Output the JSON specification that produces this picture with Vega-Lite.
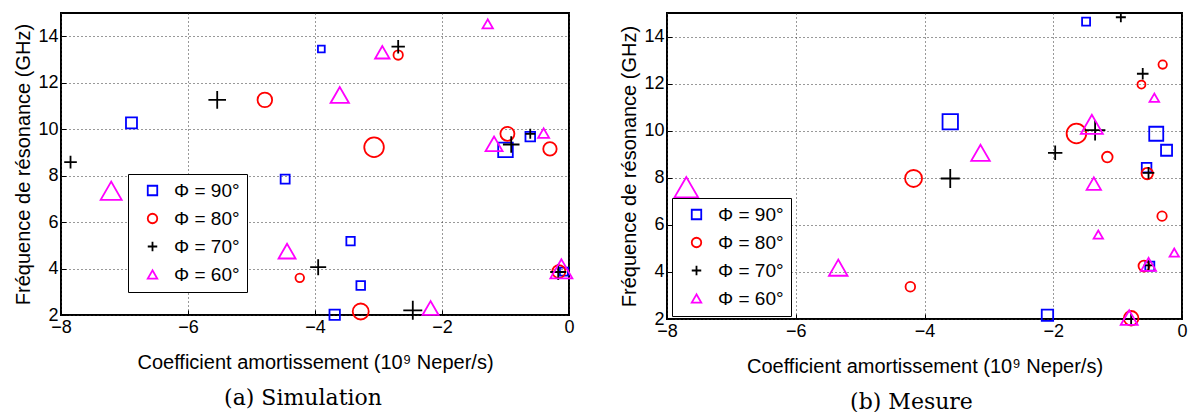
{
  "$schema": "https://vega.github.io/schema/vega-lite/v6.json",
  "padding": {"left": 12, "top": 7, "right": 4, "bottom": 2},
  "background": "white",
  "spacing": 41,
  "config": {
    "view": {"stroke": "black", "strokeWidth": 2},
    "font": "Liberation Sans",
    "axis": {
      "grid": true, "gridColor": "#333333", "gridDash": [1, 3], "gridWidth": 1, "gridOpacity": 1,
      "domain": false, "ticks": true, "tickSize": -5, "tickColor": "black", "tickWidth": 1,
      "labelPadding": 8, "labelFont": "Liberation Sans", "labelFontSize": 18, "labelColor": "black",
      "labelFlush": false, "labelOverlap": false,
      "titleFont": "Liberation Sans", "titleFontSize": 20, "titleFontWeight": "normal", "titleColor": "black"
    },
    "axisX": {"titlePadding": 16},
    "legend": {
      "fillColor": "white", "strokeColor": "black", "padding": 7,
      "labelFont": "Liberation Sans", "labelFontSize": 19, "labelColor": "black",
      "symbolSize": 90, "symbolStrokeWidth": 1.8, "rowPadding": 8,
      "labelOffset": 12, "symbolOffset": 8
    }
  },
  "datasets": {
    "points": [
      {"p": "Simulation", "phi": "Φ = 90°", "x": -6.89, "y": 10.27, "a": 5.5},
      {"p": "Simulation", "phi": "Φ = 90°", "x": -4.47, "y": 7.85, "a": 4.5},
      {"p": "Simulation", "phi": "Φ = 90°", "x": -3.90, "y": 13.45, "a": 3.4},
      {"p": "Simulation", "phi": "Φ = 90°", "x": -1.00, "y": 9.11, "a": 7.3},
      {"p": "Simulation", "phi": "Φ = 90°", "x": -0.61, "y": 9.68, "a": 4.8},
      {"p": "Simulation", "phi": "Φ = 90°", "x": -3.44, "y": 5.18, "a": 4.2},
      {"p": "Simulation", "phi": "Φ = 90°", "x": -3.28, "y": 3.27, "a": 4.3},
      {"p": "Simulation", "phi": "Φ = 90°", "x": -3.69, "y": 2.01, "a": 5.2},
      {"p": "Simulation", "phi": "Φ = 90°", "x": -0.08, "y": 3.87, "a": 4.0},
      {"p": "Simulation", "phi": "Φ = 80°", "x": -4.79, "y": 11.26, "a": 7.3},
      {"p": "Simulation", "phi": "Φ = 80°", "x": -2.69, "y": 13.19, "a": 4.7},
      {"p": "Simulation", "phi": "Φ = 80°", "x": -3.07, "y": 9.22, "a": 9.8},
      {"p": "Simulation", "phi": "Φ = 80°", "x": -0.97, "y": 9.80, "a": 7.0},
      {"p": "Simulation", "phi": "Φ = 80°", "x": -0.30, "y": 9.15, "a": 6.7},
      {"p": "Simulation", "phi": "Φ = 80°", "x": -4.24, "y": 3.60, "a": 4.3},
      {"p": "Simulation", "phi": "Φ = 80°", "x": -3.28, "y": 2.15, "a": 8.0},
      {"p": "Simulation", "phi": "Φ = 80°", "x": -0.16, "y": 3.87, "a": 6.5},
      {"p": "Simulation", "phi": "Φ = 70°", "x": -7.85, "y": 8.58, "a": 6.3},
      {"p": "Simulation", "phi": "Φ = 70°", "x": -5.54, "y": 11.26, "a": 8.8},
      {"p": "Simulation", "phi": "Φ = 70°", "x": -2.69, "y": 13.55, "a": 6.7},
      {"p": "Simulation", "phi": "Φ = 70°", "x": -0.91, "y": 9.34, "a": 8.3},
      {"p": "Simulation", "phi": "Φ = 70°", "x": -0.61, "y": 9.80, "a": 5.0},
      {"p": "Simulation", "phi": "Φ = 70°", "x": -3.95, "y": 4.06, "a": 8.0},
      {"p": "Simulation", "phi": "Φ = 70°", "x": -2.46, "y": 2.20, "a": 9.5},
      {"p": "Simulation", "phi": "Φ = 70°", "x": -0.17, "y": 3.85, "a": 8.0},
      {"p": "Simulation", "phi": "Φ = 60°", "x": -7.21, "y": 7.35, "a": 10.5},
      {"p": "Simulation", "phi": "Φ = 60°", "x": -1.28, "y": 14.53, "a": 5.2},
      {"p": "Simulation", "phi": "Φ = 60°", "x": -2.94, "y": 13.31, "a": 7.2},
      {"p": "Simulation", "phi": "Φ = 60°", "x": -3.61, "y": 11.47, "a": 9.2},
      {"p": "Simulation", "phi": "Φ = 60°", "x": -1.18, "y": 9.37, "a": 8.5},
      {"p": "Simulation", "phi": "Φ = 60°", "x": -0.40, "y": 9.83, "a": 5.5},
      {"p": "Simulation", "phi": "Φ = 60°", "x": -4.44, "y": 4.75, "a": 8.5},
      {"p": "Simulation", "phi": "Φ = 60°", "x": -2.18, "y": 2.30, "a": 8.0},
      {"p": "Simulation", "phi": "Φ = 60°", "x": -0.12, "y": 3.99, "a": 11.0},
      {"p": "Mesure", "phi": "Φ = 90°", "x": -1.49, "y": 14.63, "a": 4.0},
      {"p": "Mesure", "phi": "Φ = 90°", "x": -3.60, "y": 10.38, "a": 7.7},
      {"p": "Mesure", "phi": "Φ = 90°", "x": -0.40, "y": 9.87, "a": 7.0},
      {"p": "Mesure", "phi": "Φ = 90°", "x": -0.24, "y": 9.17, "a": 5.5},
      {"p": "Mesure", "phi": "Φ = 90°", "x": -0.55, "y": 8.43, "a": 4.8},
      {"p": "Mesure", "phi": "Φ = 90°", "x": -2.09, "y": 2.16, "a": 5.7},
      {"p": "Mesure", "phi": "Φ = 90°", "x": -0.50, "y": 4.25, "a": 4.5},
      {"p": "Mesure", "phi": "Φ = 80°", "x": -0.30, "y": 12.81, "a": 4.2},
      {"p": "Mesure", "phi": "Φ = 80°", "x": -0.63, "y": 11.96, "a": 4.0},
      {"p": "Mesure", "phi": "Φ = 80°", "x": -1.64, "y": 9.88, "a": 9.8},
      {"p": "Mesure", "phi": "Φ = 80°", "x": -1.16, "y": 8.88, "a": 5.3},
      {"p": "Mesure", "phi": "Φ = 80°", "x": -4.17, "y": 7.97, "a": 8.5},
      {"p": "Mesure", "phi": "Φ = 80°", "x": -0.54, "y": 8.18, "a": 5.7},
      {"p": "Mesure", "phi": "Φ = 80°", "x": -0.31, "y": 6.37, "a": 4.7},
      {"p": "Mesure", "phi": "Φ = 80°", "x": -4.22, "y": 3.37, "a": 4.8},
      {"p": "Mesure", "phi": "Φ = 80°", "x": -0.59, "y": 4.25, "a": 5.5},
      {"p": "Mesure", "phi": "Φ = 80°", "x": -0.79, "y": 2.03, "a": 7.3},
      {"p": "Mesure", "phi": "Φ = 70°", "x": -0.95, "y": 14.82, "a": 5.0},
      {"p": "Mesure", "phi": "Φ = 70°", "x": -0.61, "y": 12.42, "a": 5.8},
      {"p": "Mesure", "phi": "Φ = 70°", "x": -1.35, "y": 10.02, "a": 10.3},
      {"p": "Mesure", "phi": "Φ = 70°", "x": -1.97, "y": 9.06, "a": 7.2},
      {"p": "Mesure", "phi": "Φ = 70°", "x": -3.60, "y": 7.97, "a": 9.5},
      {"p": "Mesure", "phi": "Φ = 70°", "x": -0.52, "y": 8.21, "a": 5.8},
      {"p": "Mesure", "phi": "Φ = 70°", "x": -0.52, "y": 4.28, "a": 5.0},
      {"p": "Mesure", "phi": "Φ = 70°", "x": -0.79, "y": 2.00, "a": 5.0},
      {"p": "Mesure", "phi": "Φ = 60°", "x": -7.70, "y": 7.60, "a": 11.8},
      {"p": "Mesure", "phi": "Φ = 60°", "x": -5.34, "y": 4.18, "a": 9.3},
      {"p": "Mesure", "phi": "Φ = 60°", "x": -3.13, "y": 9.06, "a": 9.3},
      {"p": "Mesure", "phi": "Φ = 60°", "x": -1.40, "y": 10.27, "a": 11.0},
      {"p": "Mesure", "phi": "Φ = 60°", "x": -1.37, "y": 7.75, "a": 7.2},
      {"p": "Mesure", "phi": "Φ = 60°", "x": -0.43, "y": 11.40, "a": 4.8},
      {"p": "Mesure", "phi": "Φ = 60°", "x": -1.30, "y": 5.59, "a": 4.7},
      {"p": "Mesure", "phi": "Φ = 60°", "x": -0.12, "y": 4.82, "a": 4.7},
      {"p": "Mesure", "phi": "Φ = 60°", "x": -0.52, "y": 4.32, "a": 7.5},
      {"p": "Mesure", "phi": "Φ = 60°", "x": -0.82, "y": 2.06, "a": 8.5}
    ]
  },
  "data": {"name": "points"},
  "resolve": {"legend": {"color": "independent", "shape": "independent"}},
  "hconcat": [
    {
      "width": 508, "height": 302,
      "title": {"text": "(a) Simulation", "orient": "bottom", "anchor": "middle", "frame": "group", "dx": -12, "font": "DejaVu Serif", "fontSize": 22, "fontWeight": "normal", "color": "black", "offset": 16},
      "transform": [{"filter": "datum.p === 'Simulation'"}],
      "mark": {"type": "point", "filled": false, "strokeWidth": 1.8, "opacity": 1},
      "encoding": {
        "x": {"field": "x", "type": "quantitative", "scale": {"domain": [-8, 0], "nice": false, "zero": false}, "axis": {"values": [-8, -6, -4, -2, 0], "title": "Coefficient amortissement (10⁹ Neper/s)"}},
        "y": {"field": "y", "type": "quantitative", "scale": {"domain": [2, 15], "nice": false, "zero": false}, "axis": {"values": [2, 4, 6, 8, 10, 12, 14], "title": "Fréquence de résonance (GHz)"}},
        "color": {"field": "phi", "type": "nominal", "scale": {"domain": ["Φ = 90°", "Φ = 80°", "Φ = 70°", "Φ = 60°"], "range": ["#0000ff", "#ff0000", "#000000", "#ff00ff"]}, "legend": {"orient": "none", "legendX": 67, "legendY": 161, "title": null}},
        "shape": {"field": "phi", "type": "nominal", "scale": {"domain": ["Φ = 90°", "Φ = 80°", "Φ = 70°", "Φ = 60°"], "range": ["square", "circle", "M-1,0H1M0,-1V1", "triangle-up"]}, "legend": {"orient": "none", "legendX": 67, "legendY": 161, "title": null}},
        "size": {"field": "a", "type": "quantitative", "scale": {"type": "pow", "exponent": 2, "domain": [0, 15], "range": [0, 900]}, "legend": null}
      }
    },
    {
      "width": 515, "height": 306,
      "title": {"text": "(b) Mesure", "orient": "bottom", "anchor": "middle", "frame": "group", "dx": -13, "font": "DejaVu Serif", "fontSize": 22, "fontWeight": "normal", "color": "black", "offset": 16},
      "transform": [{"filter": "datum.p === 'Mesure'"}],
      "mark": {"type": "point", "filled": false, "strokeWidth": 1.8, "opacity": 1},
      "encoding": {
        "x": {"field": "x", "type": "quantitative", "scale": {"domain": [-8, 0], "nice": false, "zero": false}, "axis": {"values": [-8, -6, -4, -2, 0], "title": "Coefficient amortissement (10⁹ Neper/s)"}},
        "y": {"field": "y", "type": "quantitative", "scale": {"domain": [2, 15], "nice": false, "zero": false}, "axis": {"values": [2, 4, 6, 8, 10, 12, 14], "title": "Fréquence de résonance (GHz)"}},
        "color": {"field": "phi", "type": "nominal", "scale": {"domain": ["Φ = 90°", "Φ = 80°", "Φ = 70°", "Φ = 60°"], "range": ["#0000ff", "#ff0000", "#000000", "#ff00ff"]}, "legend": {"orient": "none", "legendX": 5, "legendY": 185, "title": null}},
        "shape": {"field": "phi", "type": "nominal", "scale": {"domain": ["Φ = 90°", "Φ = 80°", "Φ = 70°", "Φ = 60°"], "range": ["square", "circle", "M-1,0H1M0,-1V1", "triangle-up"]}, "legend": {"orient": "none", "legendX": 5, "legendY": 185, "title": null}},
        "size": {"field": "a", "type": "quantitative", "scale": {"type": "pow", "exponent": 2, "domain": [0, 15], "range": [0, 900]}, "legend": null}
      }
    }
  ]
}
